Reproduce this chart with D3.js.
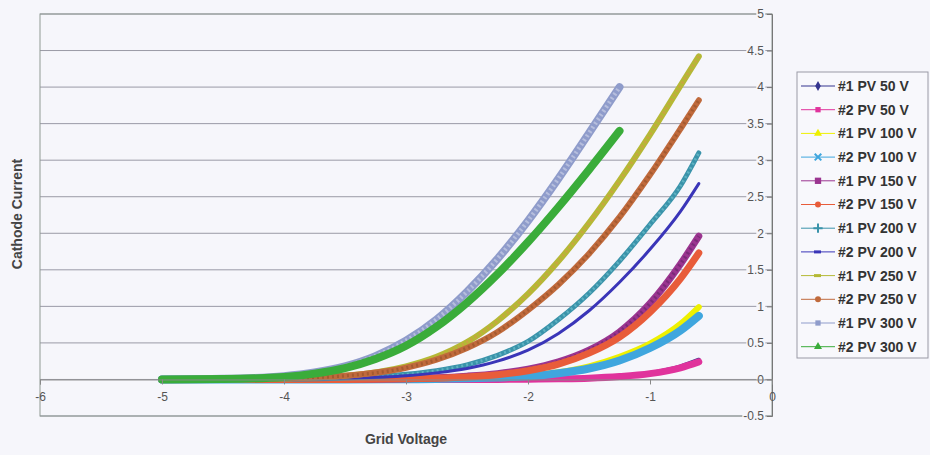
<!DOCTYPE html>
<html>
<head>
<meta charset="utf-8">
<script src="https://cdn.jsdelivr.net/npm/d3@7"></script>
<style>
  body { margin: 0; background: #f6f6fb; }
  svg { display: block; font-family: "Liberation Sans", Arial, sans-serif; }
</style>
</head>
<body>
<svg id="chart" width="930" height="455"></svg>
<script>
const seriesNames = ['#1 PV 50 V', '#2 PV 50 V', '#1 PV 100 V', '#2 PV 100 V', '#1 PV 150 V', '#2 PV 150 V',
  '#1 PV 200 V', '#2 PV 200 V', '#1 PV 250 V', '#2 PV 250 V', '#1 PV 300 V', '#2 PV 300 V'];
const seriesColors = ['#35358f', '#e0339c', '#eef000', '#3fa6de', '#9b3590', '#e85c3a',
  '#3a93aa', '#3a35b8', '#b4b935', '#c06a3c', '#8f9ccb', '#3aac3a'];
const markerKinds = ['diamond', 'square', 'triangle', 'x', 'star', 'circle',
  'plus', 'dash', 'dash', 'circle', 'square', 'triangle'];

// grid voltage steps
const gridV = [-5, -4.5, -4, -3.5, -3, -2.75, -2.5, -2.25, -2, -1.75, -1.5, -1.25, -1, -0.75, -0.6];
const gridV300 = [-5, -4.5, -4, -3.75, -3.5, -3.25, -3, -2.75, -2.5, -2.25, -2, -1.75, -1.5, -1.25];

// cathode current readings
const pv50a = [0, 0, 0, 0, 0, 0, 0, 0.001, 0.005, 0.01, 0.02, 0.045, 0.09, 0.18, 0.27];
const pv50b = [0, 0, 0, 0, 0, 0, 0, 0.001, 0.004, 0.009, 0.018, 0.04, 0.08, 0.16, 0.24];
const pv100a = [0, 0, 0, 0, 0.003, 0.007, 0.015, 0.03, 0.055, 0.1, 0.18, 0.31, 0.49, 0.76, 0.99];
const pv100b = [0, 0, 0, 0, 0.003, 0.007, 0.015, 0.028, 0.045, 0.085, 0.15, 0.26, 0.43, 0.67, 0.87];
const pv150a = [0, 0, 0, 0.002, 0.01, 0.022, 0.045, 0.08, 0.14, 0.24, 0.4, 0.65, 1.04, 1.58, 1.96];
const pv150b = [0, 0, 0, 0.001, 0.008, 0.018, 0.035, 0.065, 0.12, 0.21, 0.36, 0.58, 0.92, 1.38, 1.73];
const pv200a = [0, 0, 0.005, 0.02, 0.07, 0.12, 0.2, 0.33, 0.52, 0.82, 1.18, 1.62, 2.12, 2.65, 3.1];
const pv200b = [0, 0, 0.003, 0.015, 0.05, 0.09, 0.15, 0.25, 0.4, 0.63, 0.94, 1.33, 1.78, 2.3, 2.68];
const pv250a = [0, 0.003, 0.015, 0.05, 0.18, 0.31, 0.51, 0.8, 1.17, 1.62, 2.14, 2.72, 3.35, 4.02, 4.42];
const pv250b = [0, 0.003, 0.015, 0.05, 0.16, 0.27, 0.43, 0.65, 0.95, 1.3, 1.72, 2.22, 2.8, 3.43, 3.82];
const pv300a = [0, 0.008, 0.045, 0.095, 0.18, 0.32, 0.53, 0.82, 1.2, 1.65, 2.17, 2.75, 3.37, 4.0];
const pv300b = [0, 0.005, 0.035, 0.08, 0.155, 0.28, 0.46, 0.72, 1.05, 1.44, 1.88, 2.36, 2.87, 3.4];

const xTicks = [-6, -5, -4, -3, -2, -1, 0];
const yTicks = [-0.5, 0, 0.5, 1, 1.5, 2, 2.5, 3, 3.5, 4, 4.5, 5];

function drawChart() {
  const svg = d3.select('svg#chart');
  const plotLeft = 40, plotRight = 772, plotTop = 14, plotBottom = 416;

  const x = d3.scaleLinear().domain([-6, 0]).range([plotLeft, plotRight]);
  const y = d3.scaleLinear().domain([-0.5, 5]).range([plotBottom, plotTop]);

  const allValues = [pv50a, pv50b, pv100a, pv100b, pv150a, pv150b, pv200a, pv200b, pv250a, pv250b, pv300a, pv300b];
  const widths = [4, 7, 6, 8, 7, 7, 5, 3, 6, 6, 8, 8];
  const series = allValues.map((vals, i) => {
    const xs = vals.length === gridV300.length ? gridV300 : gridV;
    return {name: seriesNames[i], color: seriesColors[i], width: widths[i],
      points: vals.map((v, j) => [xs[j], v])};
  });

  // gridlines
  svg.append('g').selectAll('line').data(yTicks).enter()
    .append('line')
    .attr('x1', plotLeft).attr('x2', plotRight)
    .attr('y1', (d) => y(d)).attr('y2', (d) => y(d))
    .attr('stroke', '#9a9aa6').attr('stroke-width', 1);

  // plot border
  svg.append('rect')
    .attr('x', plotLeft).attr('y', plotTop)
    .attr('width', plotRight - plotLeft).attr('height', plotBottom - plotTop)
    .attr('fill', 'none').attr('stroke', '#8f9a94').attr('stroke-width', 1);

  const line = d3.line()
    .x((d) => x(d[0]))
    .y((d) => y(d[1]))
    .curve(d3.curveMonotoneX);

  const lines = svg.append('g');
  series.forEach((s, i) => {
    lines.append('path')
      .attr('d', line(s.points))
      .attr('fill', 'none')
      .attr('stroke', s.color)
      .attr('stroke-width', s.width)
      .attr('stroke-linecap', 'round');
    // speckled marker texture on some series
    const texture = {4: '#7a2a78', 6: '#5fb2c2', 8: '#c9a640', 9: '#a45a30', 10: '#b6bedd'}[i];
    if (texture) {
      lines.append('path')
        .attr('d', line(s.points))
        .attr('fill', 'none')
        .attr('stroke', texture)
        .attr('stroke-width', s.width * 0.55)
        .attr('stroke-dasharray', '2,3');
    }
  });

  // y axis at x = 0
  const yAxis = svg.append('g')
    .attr('transform', `translate(${x(0)},0)`)
    .call(d3.axisLeft(y).tickValues(yTicks).tickFormat((d) => String(d)).tickSize(5).tickPadding(3));
  yAxis.select('.domain').attr('stroke', '#777');
  yAxis.selectAll('.tick line').attr('stroke', '#777');
  yAxis.selectAll('.tick text')
    .attr('fill', '#555').attr('font-size', 12)
    .each(function() {
      const bb = this.getBBox();
      d3.select(this.parentNode).insert('rect', 'text')
        .attr('x', bb.x - 1).attr('y', bb.y + 1)
        .attr('width', bb.width + 2).attr('height', bb.height - 2)
        .attr('fill', '#f6f6fb');
    });

  // x axis at y = 0
  const xAxis = svg.append('g')
    .attr('transform', `translate(0,${y(0)})`)
    .call(d3.axisBottom(x).tickValues(xTicks).tickFormat((d) => String(d)).tickSize(5).tickPadding(8));
  xAxis.select('.domain').attr('stroke', '#888');
  xAxis.selectAll('.tick line').attr('stroke', '#888');
  xAxis.selectAll('.tick text').attr('fill', '#555').attr('font-size', 12);

  // axis titles
  svg.append('text')
    .attr('x', 406).attr('y', 444)
    .attr('text-anchor', 'middle')
    .attr('font-size', 14).attr('font-weight', 'bold').attr('fill', '#444')
    .text('Grid Voltage');
  svg.append('text')
    .attr('transform', 'translate(22,214) rotate(-90)')
    .attr('text-anchor', 'middle')
    .attr('font-size', 14).attr('font-weight', 'bold').attr('fill', '#444')
    .text('Cathode Current');

  // legend
  const legend = svg.append('g').attr('transform', 'translate(797,72)');
  legend.append('rect')
    .attr('width', 131).attr('height', 286)
    .attr('fill', '#f8f8fc').attr('stroke', '#9a9aa6');
  const rows = legend.selectAll('g.row').data(series).enter()
    .append('g').attr('class', 'row')
    .attr('transform', (d, i) => `translate(0,${14 + i * 23.7})`);
  rows.append('line')
    .attr('x1', 4).attr('x2', 38)
    .attr('stroke', (d) => d.color).attr('stroke-width', 1);
  rows.each(function(d, i) {
    const g = d3.select(this);
    const kind = markerKinds[i];
    if (kind === 'dash') {
      g.append('rect').attr('x', 17).attr('y', -1.5).attr('width', 7).attr('height', 3).attr('fill', d.color);
    } else if (kind === 'x' || kind === 'plus') {
      g.append('path')
        .attr('transform', 'translate(21,0)')
        .attr('d', d3.symbol().type(kind === 'x' ? d3.symbolTimes : d3.symbolPlus).size(30)())
        .attr('fill', 'none').attr('stroke', d.color).attr('stroke-width', 2);
    } else {
      const type = {diamond: d3.symbolDiamond, square: d3.symbolSquare, triangle: d3.symbolTriangle,
        circle: d3.symbolCircle, star: d3.symbolSquare}[kind];
      g.append('path')
        .attr('transform', 'translate(21,0)')
        .attr('d', d3.symbol().type(type).size(kind === 'star' ? 40 : 28)())
        .attr('fill', d.color);
    }
  });
  rows.append('text')
    .attr('x', 41).attr('dy', '0.35em')
    .attr('font-size', 14).attr('font-weight', 'bold').attr('fill', '#333')
    .text((d) => d.name);
}

window.addEventListener('load', function() {
  drawChart();
});
</script>
</body>
</html>
